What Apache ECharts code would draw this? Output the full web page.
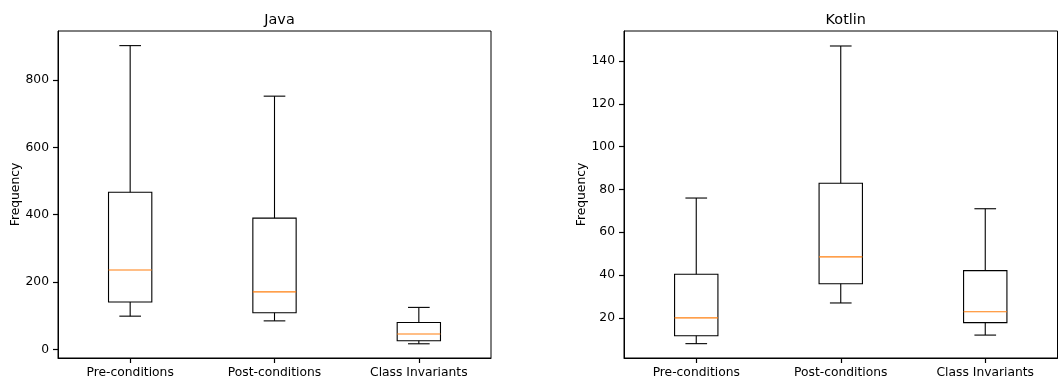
<!DOCTYPE html>
<html>
<head>
<meta charset="utf-8">
<script src="https://cdn.jsdelivr.net/npm/echarts@6/dist/echarts.min.js"></script>
<style>
html,body{margin:0;padding:0;background:#fff;}
#chart{width:1060px;height:383px;}
</style>
</head>
<body>
<div id="chart"></div>
<script>
// Categories
const categories = ['Pre-conditions', 'Post-conditions', 'Class Invariants'];
// Box statistics per category: [whiskerLow, Q1, median, Q3, whiskerHigh]
const javaLow    = [99, 85, 17];
const javaQ1     = [141, 109, 26];
const javaMedian = [236, 171, 46];
const javaQ3     = [467, 390, 80];
const javaHigh   = [902, 752, 125];

const kotlinLow    = [8, 27, 12];
const kotlinQ1     = [11.7, 36, 17.8];
const kotlinMedian = [20, 48.5, 22.9];
const kotlinQ3     = [40.4, 82.9, 42.1];
const kotlinHigh   = [76, 147, 71];

const javaTicks = [0, 200, 400, 600, 800];
const kotlinTicks = [20, 40, 60, 80, 100, 120, 140];

function buildData(low, q1, med, q3, high) {
  return categories.map((c, i) => [i, low[i], q1[i], med[i], q3[i], high[i]]);
}

function renderBox(params, api) {
  const x = api.value(0);
  const pLow = api.coord([x, api.value(1)]);
  const pQ1 = api.coord([x, api.value(2)]);
  const pMed = api.coord([x, api.value(3)]);
  const pQ3 = api.coord([x, api.value(4)]);
  const pHigh = api.coord([x, api.value(5)]);
  const band = api.size([1, 0])[0];
  const bw = band * 0.3;
  const cw = bw / 2;
  const cx = pMed[0];
  const stroke = {stroke: '#000', lineWidth: 1.1, fill: null};
  return {
    type: 'group',
    children: [
      {type: 'line', shape: {x1: cx, y1: pQ3[1], x2: cx, y2: pHigh[1]}, style: stroke},
      {type: 'line', shape: {x1: cx, y1: pQ1[1], x2: cx, y2: pLow[1]}, style: stroke},
      {type: 'line', shape: {x1: cx - cw / 2, y1: pHigh[1], x2: cx + cw / 2, y2: pHigh[1]}, style: stroke},
      {type: 'line', shape: {x1: cx - cw / 2, y1: pLow[1], x2: cx + cw / 2, y2: pLow[1]}, style: stroke},
      {type: 'rect', shape: {x: cx - bw / 2, y: pQ3[1], width: bw, height: pQ1[1] - pQ3[1]}, style: {stroke: '#000', lineWidth: 1.1, fill: 'rgba(0,0,0,0)'}},
      {type: 'line', shape: {x1: cx - bw / 2, y1: pMed[1], x2: cx + bw / 2, y2: pMed[1]}, style: {stroke: '#ff7f0e', lineWidth: 1.2}}
    ]
  };
}

const font = 'DejaVu Sans';
const labelStyle = {color: '#000', fontFamily: font, fontSize: 12.3};

function xAxisCfg(gridIndex) {
  return {
    type: 'category', gridIndex, data: categories, boundaryGap: true, position: 'bottom',
    axisLine: {show: true, onZero: false, lineStyle: {color: '#000', width: 1}},
    axisTick: {show: true, alignWithLabel: true, interval: 0, length: 5, lineStyle: {color: '#000', width: 1.2}},
    axisLabel: Object.assign({margin: 9, interval: 0}, labelStyle),
    splitLine: {show: false}
  };
}
function yAxisCfg(gridIndex, min, max, ticks) {
  return {
    type: 'value', gridIndex, min, max,
    name: 'Frequency', nameLocation: 'middle', nameRotate: 90, nameGap: 36,
    nameTextStyle: {color: '#000', fontFamily: font, fontSize: 12.3},
    axisLine: {show: true, onZero: false, lineStyle: {color: '#000', width: 1}},
    axisTick: {show: true, length: 5, customValues: ticks, lineStyle: {color: '#000', width: 1.2}},
    axisLabel: Object.assign({margin: 9, customValues: ticks}, labelStyle),
    splitLine: {show: false}
  };
}

const chart = echarts.init(document.getElementById('chart'), null, {renderer: 'canvas'});
chart.setOption({
  animation: false,
  backgroundColor: '#fff',
  title: [
    {text: 'Java', left: 274.5, top: 8, textAlign: 'center', textStyle: {color: '#000', fontFamily: font, fontSize: 14.4, fontWeight: 'normal'}},
    {text: 'Kotlin', left: 840.75, top: 8, textAlign: 'center', textStyle: {color: '#000', fontFamily: font, fontSize: 14.4, fontWeight: 'normal'}}
  ],
  grid: [
    {left: 58, top: 31, width: 433, height: 327, show: true, borderColor: '#000', borderWidth: 1, backgroundColor: 'transparent', outerBoundsMode: 'none', containLabel: false},
    {left: 624, top: 31, width: 433.5, height: 327, show: true, borderColor: '#000', borderWidth: 1, backgroundColor: 'transparent', outerBoundsMode: 'none', containLabel: false}
  ],
  xAxis: [xAxisCfg(0), xAxisCfg(1)],
  yAxis: [yAxisCfg(0, -25.2, 945.4, javaTicks), yAxisCfg(1, 1.3, 154.0, kotlinTicks)],
  series: [
    {type: 'custom', xAxisIndex: 0, yAxisIndex: 0, renderItem: renderBox,
     encode: {x: 0, y: [1, 2, 3, 4, 5]}, data: buildData(javaLow, javaQ1, javaMedian, javaQ3, javaHigh)},
    {type: 'custom', xAxisIndex: 1, yAxisIndex: 1, renderItem: renderBox,
     encode: {x: 0, y: [1, 2, 3, 4, 5]}, data: buildData(kotlinLow, kotlinQ1, kotlinMedian, kotlinQ3, kotlinHigh)}
  ]
});
</script>
</body>
</html>
